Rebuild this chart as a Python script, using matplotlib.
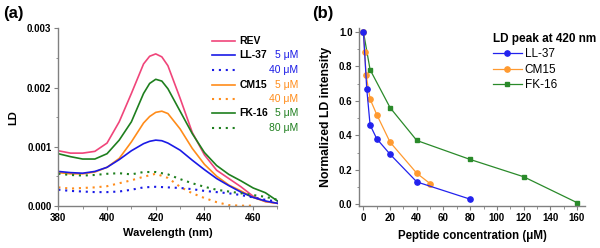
import matplotlib.pyplot as plt
from matplotlib.ticker import MultipleLocator, FormatStrFormatter
import numpy as np

plt.rcParams['font.family'] = ['Liberation Sans', 'DejaVu Sans']

# ---- (a) LD spectra (values in 1e-3 units) ----
wl = [380, 385, 390, 395, 400, 405, 410, 415, 417.5, 420, 422.5, 425,
      430, 435, 440, 445, 450, 455, 460, 465, 470]
rev = [0.93, 0.89, 0.89, 0.92, 1.06, 1.42, 1.90, 2.40, 2.53, 2.57, 2.52, 2.37,
       1.82, 1.24, 0.86, 0.60, 0.46, 0.32, 0.16, 0.07, 0.04]
ll37_5 = [0.58, 0.56, 0.55, 0.58, 0.65, 0.78, 0.93, 1.05, 1.09, 1.11, 1.10, 1.06,
          0.94, 0.77, 0.61, 0.46, 0.34, 0.23, 0.14, 0.08, 0.04]
cm15_5 = [0.56, 0.54, 0.54, 0.57, 0.65, 0.80, 1.08, 1.40, 1.51, 1.58, 1.60, 1.56,
          1.30, 0.97, 0.70, 0.50, 0.35, 0.25, 0.14, 0.07, 0.04]
fk16_5 = [0.88, 0.83, 0.79, 0.79, 0.88, 1.11, 1.42, 1.90, 2.07, 2.14, 2.11, 1.98,
          1.60, 1.22, 0.90, 0.68, 0.53, 0.42, 0.30, 0.22, 0.08]

wl_dot = [380, 385, 390, 395, 400, 405, 410, 415, 420, 425, 430, 435, 440,
          445, 450, 455, 460, 465, 470]
ll37_40 = [0.27, 0.25, 0.24, 0.23, 0.23, 0.24, 0.27, 0.31, 0.32, 0.31, 0.30, 0.28,
           0.25, 0.23, 0.21, 0.18, 0.14, 0.10, 0.07]
cm15_40 = [0.31, 0.29, 0.30, 0.31, 0.33, 0.38, 0.43, 0.49, 0.54, 0.47, 0.32, 0.21,
           0.13, 0.06, 0.01, 0.0, 0.0]
fk16_80 = [0.54, 0.52, 0.51, 0.52, 0.54, 0.55, 0.53, 0.57, 0.57, 0.53, 0.45, 0.38,
           0.32, 0.27, 0.24, 0.21, 0.18, 0.15, 0.10]

# ---- (b) normalized LD peak vs concentration ----
ll37_c = [0, 2.5, 5, 10, 20, 40, 80]
ll37_n = [1.0, 0.67, 0.46, 0.38, 0.29, 0.13, 0.03]
cm15_c = [0, 1, 2, 5, 10, 20, 40, 50]
cm15_n = [1.0, 0.88, 0.75, 0.61, 0.52, 0.36, 0.18, 0.12]
fk16_c = [0, 5, 20, 40, 80, 120, 160]
fk16_n = [1.0, 0.78, 0.56, 0.37, 0.26, 0.16, 0.01]

c_rev = '#f0457a'
c_blue = '#1a1ae6'
c_orange = '#ff8c1a'
c_green = '#1e7f1e'
c_blue_b = '#2222ee'
c_orange_b = '#ff9a30'
c_green_b = '#2a8a2a'
dot = (0, (1, 2.3))
spine_c = '#808080'

fig = plt.figure(figsize=(6, 2.48), dpi=100)
ax1 = fig.add_axes([0.0972, 0.1706, 0.3653, 0.7145])
ax2 = fig.add_axes([0.599, 0.169, 0.376, 0.717])

for ax in (ax1, ax2):
    ax.spines['top'].set_visible(False)
    ax.spines['right'].set_visible(False)
    for s in ('left', 'bottom'):
        ax.spines[s].set_color(spine_c)
        ax.spines[s].set_linewidth(1.0)
    ax.tick_params(which='both', direction='out', color=spine_c, labelsize=7)
    ax.tick_params(which='major', length=3, width=0.8, pad=2)
    ax.tick_params(which='minor', length=1.8, width=0.6)

# panel (a)
s = 1e-3
ax1.plot(wl, np.array(rev) * s, color=c_rev, lw=1.2)
ax1.plot(wl, np.array(fk16_5) * s, color=c_green, lw=1.2)
ax1.plot(wl, np.array(cm15_5) * s, color=c_orange, lw=1.2)
ax1.plot(wl, np.array(ll37_5) * s, color=c_blue, lw=1.2)
ax1.plot(wl_dot, np.array(fk16_80) * s, color=c_green, lw=1.5, ls=dot)
ax1.plot(wl_dot[:len(cm15_40)], np.array(cm15_40) * s, color=c_orange, lw=1.5, ls=dot)
ax1.plot(wl_dot, np.array(ll37_40) * s, color=c_blue, lw=1.5, ls=dot)
ax1.set_xlim(380, 470)
ax1.set_ylim(0, 0.003)
ax1.xaxis.set_major_locator(MultipleLocator(20))
ax1.xaxis.set_minor_locator(MultipleLocator(10))
ax1.yaxis.set_major_locator(MultipleLocator(0.001))
ax1.yaxis.set_minor_locator(MultipleLocator(0.0005))
ax1.yaxis.set_major_formatter(FormatStrFormatter('%.3f'))
for lab in ax1.get_xticklabels() + ax1.get_yticklabels():
    lab.set_fontweight('bold')
ax1.set_xlabel('Wavelength (nm)', fontsize=8, fontweight='bold', labelpad=4)
ax1.set_ylabel('LD', fontsize=8, fontweight='bold', labelpad=6)

# manual legend for (a)
rows = [('REV', None, c_rev, '-'),
        ('LL-37', '5 μM', c_blue, '-'),
        ('', '40 μM', c_blue, dot),
        ('CM15', '5 μM', c_orange, '-'),
        ('', '40 μM', c_orange, dot),
        ('FK-16', '5 μM', c_green, '-'),
        ('', '80 μM', c_green, dot)]
ys = [0.929, 0.850, 0.766, 0.681, 0.600, 0.521, 0.440]
for (name, conc, col, ls), y in zip(rows, ys):
    ax1.plot([0.70, 0.806], [y, y], transform=ax1.transAxes, color=col,
             lw=1.5 if ls == dot else 1.2, ls=ls, clip_on=False)
    if name:
        ax1.text(0.826, y, name, transform=ax1.transAxes, fontsize=7.5,
                 fontweight='bold', va='center', ha='left')
    if conc:
        ax1.text(1.094, y, conc, transform=ax1.transAxes, fontsize=7.5,
                 color=col, va='center', ha='right', clip_on=False)

# panel (b)
ax2.plot(fk16_c, fk16_n, color=c_green_b, lw=0.9, marker='s', ms=3.4, label='FK-16', zorder=2)
ax2.plot(cm15_c, cm15_n, color=c_orange_b, lw=0.9, marker='o', ms=3.8, label='CM15', zorder=3)
ax2.plot(ll37_c, ll37_n, color=c_blue_b, lw=0.9, marker='o', ms=3.8, label='LL-37', zorder=4)
ax2.set_xlim(-3, 166)
ax2.set_ylim(-0.01, 1.02)
ax2.xaxis.set_major_locator(MultipleLocator(20))
ax2.xaxis.set_minor_locator(MultipleLocator(10))
ax2.yaxis.set_major_locator(MultipleLocator(0.2))
ax2.yaxis.set_minor_locator(MultipleLocator(0.1))
ax2.yaxis.set_major_formatter(FormatStrFormatter('%.1f'))
for lab in ax2.get_xticklabels() + ax2.get_yticklabels():
    lab.set_fontweight('bold')
ax2.set_xlabel('Peptide concentration (μM)', fontsize=8.3, fontweight='bold', labelpad=5)
ax2.set_ylabel('Normalized LD intensity', fontsize=8.8, fontweight='bold', labelpad=5)
h, l = ax2.get_legend_handles_labels()
leg = ax2.legend(h[::-1], l[::-1], title='LD peak at 420 nm', loc='upper left',
                 bbox_to_anchor=(0.592, 0.975), frameon=False, fontsize=8.5,
                 title_fontproperties={'weight': 'bold', 'size': 8.5},
                 alignment='left', handlelength=2.45, handletextpad=0.25,
                 labelspacing=0.3, borderaxespad=0, borderpad=0)

fig.text(0.006, 0.945, '(a)', fontsize=12, fontweight='bold', va='center')
fig.text(0.52, 0.945, '(b)', fontsize=12, fontweight='bold', va='center')

fig.savefig('out.png', dpi=100)
